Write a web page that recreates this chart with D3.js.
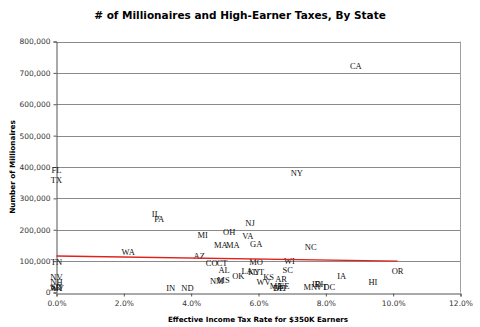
<!DOCTYPE html>
<html><head><meta charset="utf-8">
<script src="https://cdn.jsdelivr.net/npm/d3@7"></script>
<style>body{margin:0;background:#fff}</style>
</head><body>
<script>
const states = ["CA","NY","FL","TX","TN","NV","NH","SD","WY","AK","WA","IL","PA","MI","OH","NJ","VA","MA","MA","GA","AZ","NC","CO","CT","AL","MO","WI","SC","OK","LA","KY","UT","KS","WV","AR","ME","MT","NE","DE","IN","ND","NM","MS","MN","ID","RI","VT","DC","IA","HI","OR"];
const taxRate = [8.89,7.14,0,0,0,0,0,0,0.02,-0.02,2.13,2.95,3.05,4.34,5.13,5.75,5.68,4.88,5.24,5.93,4.24,7.55,4.61,4.92,4.98,5.93,6.92,6.87,5.40,5.66,5.87,6.00,6.30,6.15,6.67,6.52,6.66,6.75,6.60,3.39,3.89,4.76,4.96,7.54,7.72,7.80,7.88,8.10,8.47,9.40,10.13];
const millionaires = [723000,380000,390000,359000,98000,50000,33000,17000,15000,13000,130000,250000,234000,183000,194000,222000,181000,151000,151000,153000,117000,146000,95000,95000,73000,98000,101000,71000,53000,67000,64000,65000,50000,34000,42000,20000,15000,20000,13000,15000,14000,36000,39000,16000,26000,27000,16000,16000,52000,34000,69000];
const trendX = [0, 10.13];
const trendY = [116000, 100000];
const xTicks = [0,2,4,6,8,10,12];
const yTicks = [0,100000,200000,300000,400000,500000,600000,700000,800000];

const W=480,H=327;
const svg=d3.select("body").append("svg").attr("width",W).attr("height",H);
const x=d3.scaleLinear().domain([0,12]).range([56.5,460.5]);
const y=d3.scaleLinear().domain([0,800000]).range([292.5,41.5]);
const tf="Verdana, 'DejaVu Sans', sans-serif";

svg.append("text").attr("x",240).attr("y",19).attr("text-anchor","middle")
  .attr("font-family",tf).attr("font-weight","bold").attr("font-size",10.5)
  .text("# of Millionaires and High-Earner Taxes, By State");

// gridlines
svg.append("g").selectAll("line").data(yTicks.slice(1)).join("line")
  .attr("x1",x(0)).attr("x2",x(12)).attr("y1",d=>Math.round(y(d))+0.5).attr("y2",d=>Math.round(y(d))+0.5)
  .attr("stroke","#8a8a8a").attr("stroke-width",1);
svg.append("line").attr("x1",x(12)).attr("x2",x(12)).attr("y1",y(800000)).attr("y2",y(0))
  .attr("stroke","#a0a0a0");

// axes
const yAxis=d3.axisLeft(y).tickValues(yTicks).tickSize(3).tickPadding(3).tickFormat(d3.format(","));
const gy=svg.append("g").attr("transform",`translate(${x(0)},0)`).call(yAxis);
const xAxis=d3.axisBottom(x).tickValues(xTicks).tickSize(3).tickPadding(4).tickFormat(d=>d.toFixed(1)+"%");
const gx=svg.append("g").attr("transform",`translate(0,${Math.round(y(0))+0.5})`).call(xAxis);
[gx,gy].forEach(g=>{
  g.selectAll("path,line").attr("stroke","#555");
  g.selectAll("text").attr("font-family",tf).attr("font-size",7.5).attr("fill","#333");
});

svg.append("text").attr("transform","translate(15,167) rotate(-90)").attr("text-anchor","middle")
  .attr("font-family",tf).attr("font-weight","bold").attr("font-size",7.3).text("Number of Millionaires");
svg.append("text").attr("x",258).attr("y",322).attr("text-anchor","middle")
  .attr("font-family",tf).attr("font-weight","bold").attr("font-size",7.2).text("Effective Income Tax Rate for $350K Earners");

// labels
svg.append("g").selectAll("text").data(states).join("text")
  .attr("x",(d,i)=>x(taxRate[i])).attr("y",(d,i)=>y(millionaires[i]))
  .attr("dy","0.35em").attr("text-anchor","middle")
  .attr("font-family","'Liberation Serif', 'Times New Roman', serif").attr("font-size",8.5).attr("fill","#111")
  .text(d=>d);

// trend
svg.append("path").datum(trendX.map((v,i)=>[v,trendY[i]]))
  .attr("d",d3.line().x(d=>x(d[0])).y(d=>y(d[1])))
  .attr("stroke","#e0201b").attr("stroke-width",1.5).attr("fill","none");
</script>
</body></html>
